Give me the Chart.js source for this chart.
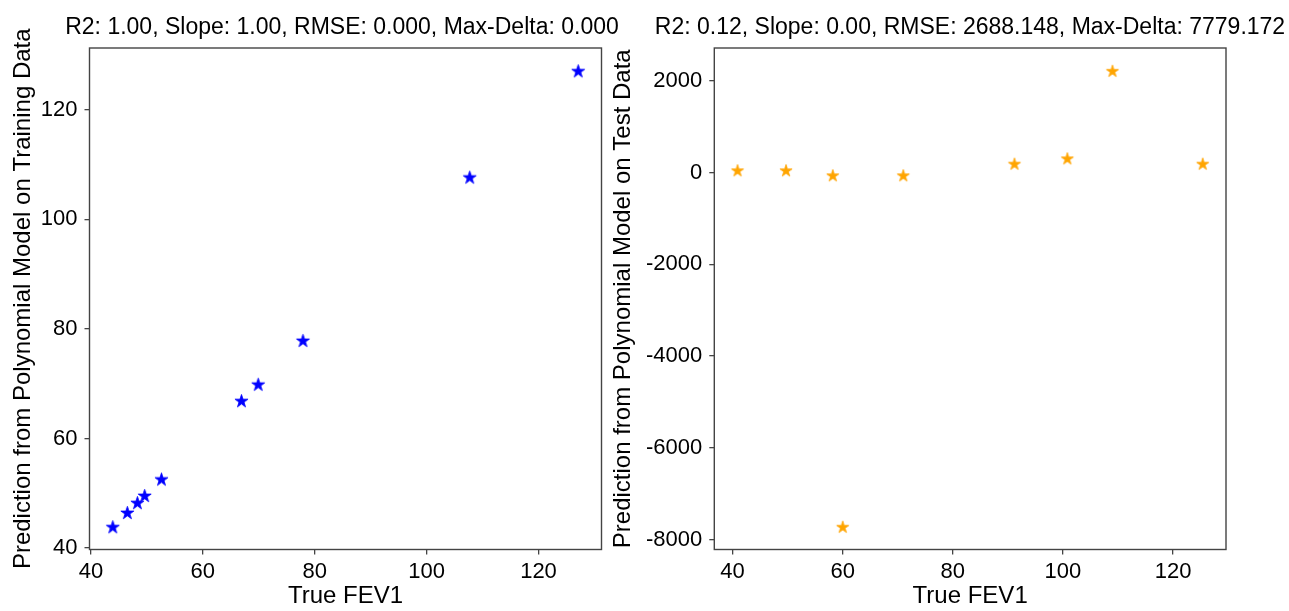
<!DOCTYPE html>
<html><head><meta charset="utf-8">
<script src="https://cdn.jsdelivr.net/npm/chart.js@4/dist/chart.umd.min.js"></script>
<style>
html,body{margin:0;padding:0;background:#fff;overflow:hidden;width:1289px;height:611px;position:relative}
canvas{position:absolute;top:0}
#c1{left:0}
#c2{left:600px}
</style></head><body>
<canvas id="c1" width="684" height="611"></canvas>
<canvas id="c2" width="740" height="611"></canvas>
<script>
// ---- data ----
const trainTrue = [43.9, 46.5, 48.3, 49.6, 52.6, 66.9, 69.9, 77.9, 107.7, 127.1];
const trainPred = [43.9, 46.5, 48.3, 49.6, 52.6, 66.9, 69.9, 77.9, 107.7, 127.1];
const testTrue  = [40.9, 49.7, 58.2, 60.0, 71.0, 91.2, 100.8, 109.0, 125.4];
const testPred  = [51, 51, -58, -7719, -58, 195, 311, 2220, 195];
const trainXTicks = [40, 60, 80, 100, 120];
const trainYTicks = [40, 60, 80, 100, 120];
const testXTicks  = [40, 60, 80, 100, 120];
const testYTicks  = [-8000, -6000, -4000, -2000, 0, 2000];
const trainTitle = 'R2: 1.00, Slope: 1.00, RMSE: 0.000, Max-Delta: 0.000';
const testTitle  = 'R2: 0.12, Slope: 0.00, RMSE: 2688.148, Max-Delta: 7779.172';
const xLabel = 'True FEV1';
const trainYLabel = 'Prediction from Polynomial Model on Training Data';
const testYLabel  = 'Prediction from Polynomial Model on Test Data';

const FONT = "'Liberation Sans', Arial, Helvetica, sans-serif";
Chart.defaults.font.family = FONT;
Chart.defaults.color = '#000';

function padRange(arr) { // matplotlib-like 5% auto margins
  const lo = Math.min(...arr), hi = Math.max(...arr), m = (hi - lo) * 0.05;
  return [lo - m, hi + m];
}

function starImg(color, r) {
  const s = Math.ceil(r * 2 + 3);
  const c = document.createElement('canvas');
  c.width = c.height = s;
  const g = c.getContext('2d');
  g.translate(s / 2, s / 2 + r * 0.1);
  g.beginPath();
  for (let i = 0; i < 10; i++) {
    const rad = i % 2 ? r * 0.382 : r;
    const a = -Math.PI / 2 + i * Math.PI / 5;
    g.lineTo(rad * Math.cos(a), rad * Math.sin(a));
  }
  g.closePath();
  g.fillStyle = color; g.fill();
  g.strokeStyle = color; g.lineWidth = 0.8; g.lineJoin = 'round'; g.stroke();
  return c;
}

const frame = {
  id: 'frame',
  beforeDatasetsDraw(c) {
    const {ctx, chartArea: a} = c;
    ctx.save();
    ctx.strokeStyle = '#444';
    ctx.lineWidth = 1.4;
    ctx.strokeRect(a.left, a.top, a.right - a.left, a.bottom - a.top);
    ctx.restore();
  }
};

function makeChart(id, o) {
  const [xmin, xmax] = padRange(o.xs);
  const [ymin, ymax] = padRange(o.ys);
  const tickGrid = {drawOnChartArea: false, drawTicks: true, tickLength: 5, color: '#444', lineWidth: 1.3};
  return new Chart(document.getElementById(id), {
    type: 'scatter',
    data: {datasets: [{
      data: o.xs.map((x, i) => ({x: x, y: o.ys[i]})),
      pointStyle: o.star, pointRadius: 6, pointHoverRadius: 6,
      backgroundColor: o.color, borderColor: o.color
    }]},
    options: {
      responsive: false, animation: false, events: [],
      layout: {padding: 0},
      plugins: {
        legend: {display: false}, tooltip: {enabled: false},
        title: {display: true, text: o.title, fullSize: true, color: '#000',
          font: {family: FONT, size: 23, weight: 'normal'}, padding: {top: 13.5, bottom: 6.9}}
      },
      scales: {
        x: {
          type: 'linear', position: 'bottom', min: xmin, max: xmax,
          afterFit: s => { s.height = 61.5; },
          afterBuildTicks: s => { s.ticks = o.xTicks.map(v => ({value: v})); },
          ticks: {callback: v => String(v), color: '#000', font: {size: 22}, padding: 4, maxRotation: 0, autoSkip: false},
          grid: tickGrid, border: {display: false},
          title: {display: true, text: xLabel, color: '#000', font: {size: 24}, padding: {top: 0, bottom: 0}}
        },
        y: {
          type: 'linear', position: 'left', min: ymin, max: ymax,
          afterFit: s => { s.width = o.yW; },
          afterBuildTicks: s => { s.ticks = o.yTicks.map(v => ({value: v})); },
          ticks: {callback: v => String(v), color: '#000', font: {size: 22}, padding: 7, autoSkip: false},
          grid: tickGrid, border: {display: false},
          title: {display: true, text: o.yLabel, color: '#000', font: {size: 24}, padding: {top: o.yTitlePad, bottom: 0}}
        },
        yRight: {
          type: 'linear', axis: 'y', position: 'right', display: true,
          afterFit: s => { s.width = o.rW; },
          ticks: {display: false}, grid: {display: false}, border: {display: false}
        }
      }
    },
    plugins: [frame]
  });
}

makeChart('c1', {
  xs: trainTrue, ys: trainPred, xTicks: trainXTicks, yTicks: trainYTicks,
  title: trainTitle, yLabel: trainYLabel, color: '#0000ff',
  star: starImg('#0000ff', 6.9), yW: 89.5, rW: 82.5, yTitlePad: 9
});
makeChart('c2', {
  xs: testTrue, ys: testPred, xTicks: testXTicks, yTicks: testYTicks,
  title: testTitle, yLabel: testYLabel, color: '#ffa500',
  star: starImg('#ffa500', 6.4), yW: 114.3, rW: 114, yTitlePad: 9
});
</script>
</body></html>
